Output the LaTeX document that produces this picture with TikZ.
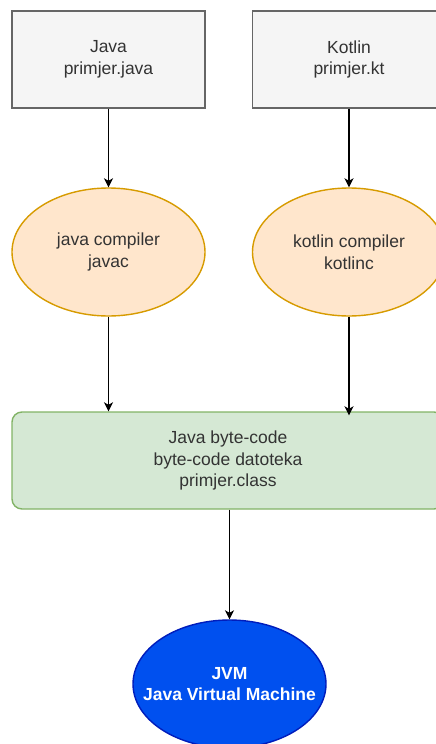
\documentclass[tikz,border=0pt]{standalone}
\usepackage{fontspec}
\setmainfont{Liberation Sans}
\usetikzlibrary{shapes.geometric,arrows.meta}
\definecolor{txt}{HTML}{333333}
\definecolor{boxfill}{HTML}{F5F5F5}
\definecolor{boxline}{HTML}{666666}
\definecolor{ofill}{HTML}{FFE6CC}
\definecolor{oline}{HTML}{D79B00}
\definecolor{gfill}{HTML}{D5E8D4}
\definecolor{gline}{HTML}{82B366}
\definecolor{bfill}{HTML}{0050EF}
\definecolor{bline}{HTML}{001DBC}
\tikzset{
  lbl/.style={inner sep=0pt, align=center, text=txt, font=\fontsize{17.5}{21.5}\selectfont},
  base/.style={lbl, line width=1.4pt},
  srcbox/.style={base, rectangle, draw=boxline, fill=boxfill, minimum width=193pt, minimum height=97pt},
  compiler/.style={base, ellipse, draw=oline, fill=ofill, minimum width=193pt, minimum height=128pt},
  bytebox/.style={base, rectangle, rounded corners=10pt, draw=gline, fill=gfill, minimum width=432pt, minimum height=97pt},
  vm/.style={base, ellipse, draw=bline, fill=bfill, minimum width=193pt, minimum height=128pt},
  vmlbl/.style={lbl, text=white, font=\fontsize{17.5}{21.5}\selectfont\bfseries},
  conn/.style={-{Stealth[length=9pt,width=9pt,inset=2.5pt]}, line width=1.4pt, black}
}
\begin{document}
\begin{tikzpicture}[x=1pt,y=-1pt]
\useasboundingbox (0,0) rectangle (436,744);
\clip (0,0) rectangle (436,744);
\node[srcbox] (java) at (108.5,59.5) {Java\\primjer.java};
\node[srcbox] (kotlin) at (349,59.5) {Kotlin\\primjer.kt};
\node[compiler, label={[lbl]center:java compiler\\javac}] (javac) at (108.5,252) {};
\node[compiler, label={[lbl]center:kotlin compiler\\kotlinc}] (kotlinc) at (349,252) {};
\node[bytebox] (bc) at (228,460.5) {Java byte-code\\byte-code datoteka\\primjer.class};
\node[vm, label={[vmlbl]center:JVM\\Java Virtual Machine}] (jvm) at (229.5,684) {};
\draw[conn] (java) -- (javac);
\draw[conn] (kotlin) -- (kotlinc);
\draw[conn] (javac.south) -- (javac.south |- bc.north);
\draw[conn] (kotlinc.south) -- ([yshift=-4pt]kotlinc.south |- bc.north);
\draw[conn] (bc.south -| jvm.north) -- (jvm.north);
\end{tikzpicture}
\end{document}
